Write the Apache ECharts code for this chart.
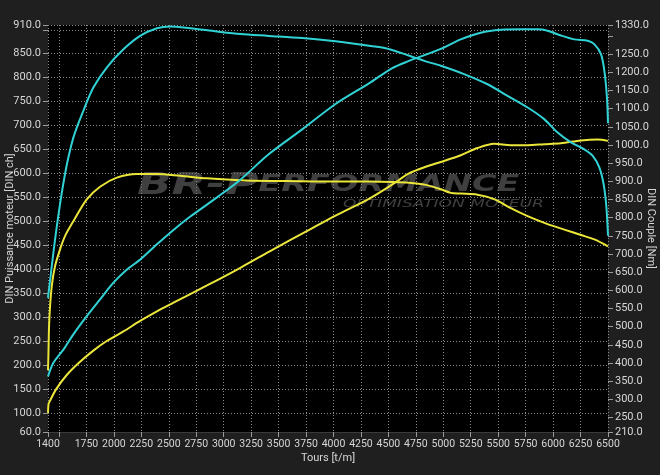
<!DOCTYPE html>
<html>
<head>
<meta charset="utf-8">
<script src="https://cdn.jsdelivr.net/npm/echarts@6/dist/echarts.min.js"></script>
<style>
  html, body { margin: 0; padding: 0; background: #1f1f1f; }
  #chart { width: 660px; height: 475px; }
</style>
</head>
<body>
<div id="chart"></div>
<script>
// ---- Data ----
// Cyan (tuned) power [DIN ch], left axis
const cyanPowerRpm = [1400, 1448, 1540, 1631, 1753, 1874, 1996, 2117, 2239, 2392, 2543, 2696, 2939, 3152, 3410, 3715, 4019, 4323, 4536, 4688, 4840, 4977, 5159, 5341, 5524, 5706, 5859, 5950, 6071, 6193, 6315, 6375, 6436, 6467, 6490, 6500];
const cyanPower    = [176, 204, 232, 264, 302, 337, 372, 399, 420, 452, 482, 510, 550, 587, 640, 692, 745, 788, 820, 835, 848, 860, 880, 894, 900, 901, 901, 898, 888, 880, 877, 870, 849, 814, 760, 705];
// Cyan (tuned) torque [Nm], right axis
const cyanTorqueRpm = [1400, 1479, 1555, 1631, 1722, 1813, 1935, 2087, 2239, 2392, 2513, 2696, 2939, 3152, 3410, 3715, 4019, 4323, 4475, 4627, 4749, 4840, 4977, 5189, 5403, 5585, 5768, 5919, 6041, 6163, 6284, 6361, 6421, 6460, 6485, 6500];
const cyanTorque    = [579, 773, 920, 1020, 1094, 1158, 1213, 1263, 1300, 1321, 1326, 1321, 1312, 1305, 1300, 1294, 1285, 1273, 1266, 1252, 1239, 1230, 1218, 1195, 1167, 1135, 1103, 1071, 1034, 1007, 988, 970, 938, 892, 830, 750];
// Yellow (stock) power [DIN ch], left axis
const yellowPowerRpm = [1400, 1405, 1415, 1476, 1567, 1689, 1813, 1935, 2087, 2239, 2392, 2543, 2848, 3152, 3456, 3761, 4019, 4323, 4536, 4688, 4840, 4977, 5159, 5311, 5463, 5615, 5768, 5919, 6071, 6254, 6406, 6500];
const yellowPower    = [100, 118, 124, 150, 178, 206, 230, 250, 270, 292, 312, 330, 366, 403, 442, 480, 512, 547, 577, 600, 614, 624, 638, 653, 662, 659, 659, 661, 663, 669, 671, 668];
// Yellow (stock) torque [Nm], right axis
const yellowTorqueRpm = [1400, 1403, 1412, 1434, 1464, 1509, 1555, 1631, 1753, 1874, 2027, 2209, 2392, 2604, 2848, 3152, 3410, 3715, 4019, 4323, 4536, 4688, 4840, 4977, 5068, 5159, 5311, 5463, 5615, 5768, 5950, 6102, 6254, 6376, 6500];
const yellowTorque    = [380, 410, 520, 611, 666, 712, 749, 790, 850, 885, 910, 920, 920, 915, 908, 903, 901, 900, 899, 899, 898, 896, 890, 878, 868, 866, 863, 851, 826, 804, 782, 767, 752, 740, 721];

// Axis ticks / labels
const xTicks  = [1400, 1500, 1750, 2000, 2250, 2500, 2750, 3000, 3250, 3500, 3750, 4000, 4250, 4500, 4750, 5000, 5250, 5500, 5750, 6000, 6250, 6500];
const xLabels = [1400, 1750, 2000, 2250, 2500, 2750, 3000, 3250, 3500, 3750, 4000, 4250, 4500, 4750, 5000, 5250, 5500, 5750, 6000, 6250, 6500];
const leftTicks  = [60, 100, 150, 200, 250, 300, 350, 400, 450, 500, 550, 600, 650, 700, 750, 800, 850, 900, 910];
const leftLabels = [60, 100, 150, 200, 250, 300, 350, 400, 450, 500, 550, 600, 650, 700, 750, 800, 850, 910];
const rightTicks  = [210, 250, 300, 350, 400, 450, 500, 550, 600, 650, 700, 750, 800, 850, 900, 950, 1000, 1050, 1100, 1150, 1200, 1250, 1300, 1330];
const rightLabels = [210, 250, 300, 350, 400, 450, 500, 550, 600, 650, 700, 750, 800, 850, 900, 950, 1000, 1050, 1100, 1150, 1200, 1250, 1330];

const zip = (xs, ys) => xs.map((x, i) => [x, ys[i]]);

const FONT = 'Roboto, "Liberation Sans", sans-serif';
const TXT = '#d6d6d6';
const CYAN = '#31d2d5';
const YELLOW = '#ebe63a';
const WM = 'rgba(115,115,115,0.55)';

const chart = echarts.init(document.getElementById('chart'), null, { renderer: 'canvas' });

const lineSeries = (name, data, color, yIdx) => ({
  name, type: 'line', data, yAxisIndex: yIdx,
  showSymbol: false, smooth: 0.3,
  lineStyle: { color, width: 2 }, itemStyle: { color },
  z: 5, silent: true, animation: false
});

chart.setOption({
  backgroundColor: '#1f1f1f',
  animation: false,
  textStyle: { fontFamily: FONT },
  grid: { left: 48, right: 52, top: 25, bottom: 43, show: true, backgroundColor: '#000', borderWidth: 0,
          containLabel: false, outerBoundsMode: 'none' },
  graphic: [
    {
      type: 'text', x: 137, y: 170, scaleX: 1.46, z: 2, silent: true,
      style: {
        text: '{a|BR-P}{b|ERFORMANCE}',
        rich: {
          a: { fontFamily: '"DejaVu Sans"', fontStyle: 'italic', fontWeight: 'bold', fontSize: 31, fill: WM },
          b: { fontFamily: '"DejaVu Sans"', fontStyle: 'italic', fontWeight: 'bold', fontSize: 23, fill: WM }
        }
      }
    },
    {
      type: 'text', x: 343, y: 199, scaleX: 1.55, z: 2, silent: true,
      style: {
        text: 'OPTIMISATION MOTEUR',
        fontFamily: '"DejaVu Sans"', fontStyle: 'italic', fontSize: 11,
        fill: WM
      }
    }
  ],
  xAxis: {
    type: 'value', min: 1400, max: 6500,
    name: 'Tours [t/m]', nameLocation: 'middle', nameGap: 21, nameMoveOverlap: false,
    nameTextStyle: { color: TXT, fontSize: 11, fontFamily: FONT },
    axisLine: { show: true, lineStyle: { color: '#3a3a3a', width: 1 } },
    axisTick: { show: true, customValues: xTicks, length: 5, lineStyle: { color: '#9a9a9a' } },
    axisLabel: { customValues: xLabels, color: TXT, fontSize: 10.5, margin: 7, fontFamily: FONT,
                 formatter: v => String(v), hideOverlap: false },
    splitLine: { show: true, lineStyle: { color: '#8a8a8a', type: [1, 2], width: 1 } }
  },
  yAxis: [
    {
      type: 'value', min: 60, max: 910, position: 'left',
      name: 'DIN Puissance moteur [DIN ch]', nameLocation: 'middle', nameGap: 32, nameMoveOverlap: false,
      nameTextStyle: { color: TXT, fontSize: 11, fontFamily: FONT },
      axisLine: { show: false },
      axisTick: { show: true, customValues: leftTicks, length: 5, lineStyle: { color: '#9a9a9a' } },
      axisLabel: { customValues: leftLabels, color: TXT, fontSize: 11, margin: 7, fontFamily: FONT,
                   formatter: v => Number(v).toFixed(1) },
      splitLine: { show: true, lineStyle: { color: '#8a8a8a', type: [1, 2], width: 1 } }
    },
    {
      type: 'value', min: 210, max: 1330, position: 'right',
      name: 'DIN Couple [Nm]', nameLocation: 'middle', nameGap: 37, nameRotate: -90, nameMoveOverlap: false,
      nameTextStyle: { color: TXT, fontSize: 11, fontFamily: FONT },
      axisLine: { show: false },
      axisTick: { show: true, customValues: rightTicks, length: 5, lineStyle: { color: '#9a9a9a' } },
      axisLabel: { customValues: rightLabels, color: TXT, fontSize: 11, margin: 7, fontFamily: FONT,
                   formatter: v => Number(v).toFixed(1) },
      splitLine: { show: false }
    }
  ],
  series: [
    lineSeries('Puissance stock', zip(yellowPowerRpm, yellowPower), YELLOW, 0),
    lineSeries('Couple stock', zip(yellowTorqueRpm, yellowTorque), YELLOW, 1),
    lineSeries('Puissance', zip(cyanPowerRpm, cyanPower), CYAN, 0),
    lineSeries('Couple', zip(cyanTorqueRpm, cyanTorque), CYAN, 1)
  ]
});
</script>
</body>
</html>
